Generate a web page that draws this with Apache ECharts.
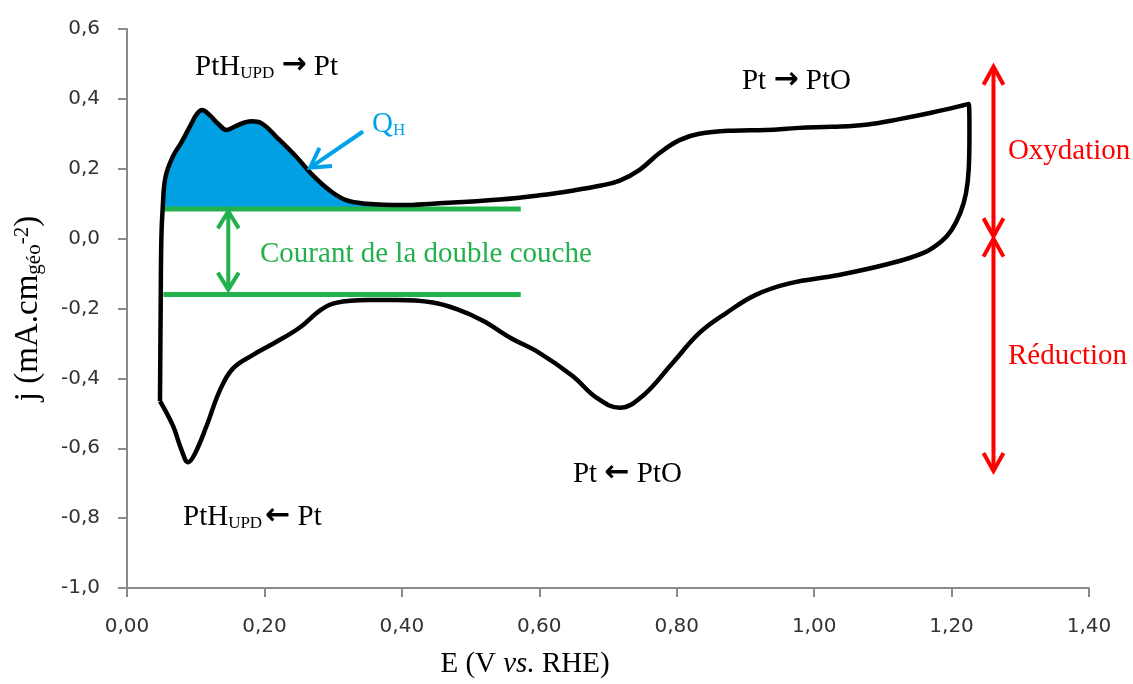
<!DOCTYPE html>
<html><head><meta charset="utf-8">
<script src="https://cdn.jsdelivr.net/npm/echarts@6/dist/echarts.min.js"></script>
<style>html,body{margin:0;padding:0;background:#fff}#c{width:1133px;height:684px}</style>
</head><body><div id="c"></div>
<script>
// ---------- data ----------
const xTickLabels = ['0,00','0,20','0,40','0,60','0,80','1,00','1,20','1,40'];
const yTickLabels = ['-1,0','-0,8','-0,6','-0,4','-0,2','0,0','0,2','0,4','0,6'];

// anodic sweep (E in V vs RHE, j in mA/cm2)
const anodicE = [0.048,0.049,0.050,0.052,0.056,0.067,0.079,0.094,0.101,0.109,0.121,0.133,0.145,0.159,0.181,0.196,0.218,0.247,0.268,0.295,0.319,0.348,0.400,0.445,0.542,0.600,0.650,0.690,0.717,0.746,0.775,0.804,0.833,0.881,0.930,0.978,1.026,1.075,1.124,1.172,1.225];
const anodicJ = [-0.465,-0.200,0.000,0.090,0.176,0.236,0.275,0.330,0.355,0.368,0.352,0.328,0.311,0.323,0.336,0.330,0.290,0.233,0.186,0.138,0.110,0.100,0.096,0.100,0.112,0.124,0.138,0.152,0.166,0.197,0.245,0.282,0.300,0.309,0.311,0.317,0.320,0.326,0.342,0.361,0.385];
// cathodic sweep
const cathodicE = [1.226,1.225,1.221,1.213,1.200,1.185,1.160,1.109,1.036,0.964,0.915,0.872,0.833,0.794,0.750,0.717,0.683,0.649,0.600,0.559,0.518,0.480,0.445,0.392,0.350,0.304,0.282,0.251,0.215,0.184,0.154,0.135,0.116,0.099,0.089,0.079,0.067,0.048];
const cathodicJ = [0.300,0.200,0.130,0.075,0.025,-0.008,-0.040,-0.072,-0.104,-0.128,-0.161,-0.213,-0.270,-0.356,-0.451,-0.484,-0.455,-0.394,-0.327,-0.285,-0.235,-0.202,-0.183,-0.176,-0.176,-0.184,-0.204,-0.255,-0.298,-0.332,-0.372,-0.435,-0.535,-0.615,-0.640,-0.603,-0.536,-0.465];

// double-layer current levels and range
const dlTop = 0.085;
const dlBottom = -0.160;
const dlStart = 0.053;
const dlEnd = 0.573;
const qhEndE = 0.40;

// arrows: tail (x1,y1) -> tip (x2,y2); heads: 1 = tip only, 2 = both ends
const arrowX1 = [0.1474, 1.261, 1.261, 0.3435];
const arrowY1 = [0.078, 0.492, 0.000, 0.3066];
const arrowX2 = [0.1474, 1.261, 1.261, 0.2663];
const arrowY2 = [-0.146, 0.0066, -0.665, 0.2029];
const arrowHeads = [2, 2, 2, 1];

// annotation texts (left edge x, vertical centre y in data units)
const labelX = [0.099, 0.895, 0.3566, 1.282, 1.282, 0.1936, 0.649, 0.0815];
const labelY = [0.494, 0.452, 0.326, 0.249, -0.337, -0.046, -0.672, -0.796];
const labelText = [
  '{n|PtH}{s|UPD}{n| }{a|→}{n| Pt}',
  '{n|Pt }{a|→}{n| PtO}',
  '{n|Q}{s|H}',
  '{n|Oxydation}',
  '{n|Réduction}',
  '{n|Courant de la double couche}',
  '{n|Pt }{a|←}{n| PtO}',
  '{n|PtH}{s|UPD}{t| }{a|←}{n| Pt}'
];

// ---------- styles ----------
const labelColor = ['#000','#000','#00A2E8','#FF0000','#FF0000','#22B14C','#000','#000'];
const arrowColor = ['#22B14C','#FF0000','#FF0000','#00A2E8'];
const arrowHeadLen = [17, 18, 18, 19];
const arrowHeadHalf = [10.5, 10, 10, 11];
const SERIF = '"Liberation Serif", "Times New Roman", serif';

function richFor(color){
  return {
    n: {fontFamily: SERIF, fontSize: 29, fill: color, verticalAlign: 'bottom'},
    s: {fontFamily: SERIF, fontSize: 17, fill: color, verticalAlign: 'bottom'},
    t: {fontFamily: SERIF, fontSize: 12, fill: color, verticalAlign: 'bottom'},
    a: {fontFamily: '"DejaVu Sans"', fontWeight: 'bold', fontSize: 30, fill: color, verticalAlign: 'bottom', padding: [0,0,1,0]}
  };
}

const cvData = anodicE.map((e,i)=>[e, anodicJ[i]]).concat(cathodicE.map((e,i)=>[e, cathodicJ[i]]));
const qhData = anodicE.map((e,i)=>[e, anodicJ[i]]).filter(p => p[0] <= qhEndE && p[1] >= dlTop);
const arrowData = arrowX1.map((v,i)=>[arrowX1[i], arrowY1[i], arrowX2[i], arrowY2[i], i]);
const labelData = labelX.map((v,i)=>[labelX[i], labelY[i], i]);

function renderArrow(params, api){
  const i = api.value(4);
  const p1 = api.coord([api.value(0), api.value(1)]);
  const p2 = api.coord([api.value(2), api.value(3)]);
  const dx = p2[0]-p1[0], dy = p2[1]-p1[1];
  const L = Math.hypot(dx, dy);
  const ux = dx/L, uy = dy/L, nx = -uy, ny = ux;
  const hl = arrowHeadLen[i], hw = arrowHeadHalf[i];
  const color = arrowColor[i];
  const st = {stroke: color, lineWidth: 4, fill: null, lineJoin: 'miter', lineCap: 'butt'};
  function head(t, s){
    return {type: 'polyline', shape: {points: [
      [t[0]-s*ux*hl+nx*hw, t[1]-s*uy*hl+ny*hw], t,
      [t[0]-s*ux*hl-nx*hw, t[1]-s*uy*hl-ny*hw]]}, style: st};
  }
  const a = arrowHeads[i] === 2 ? [p1[0]+ux*2, p1[1]+uy*2] : p1;
  const b = [p2[0]-ux*2, p2[1]-uy*2];
  const children = [{type: 'line', shape: {x1: a[0], y1: a[1], x2: b[0], y2: b[1]}, style: st}, head(p2, 1)];
  if (arrowHeads[i] === 2) children.push(head(p1, -1));
  return {type: 'group', children: children};
}

function renderLabel(params, api){
  const i = api.value(2);
  const p = api.coord([api.value(0), api.value(1)]);
  return {type: 'text', x: p[0], y: p[1], silent: true,
    style: {text: labelText[i], rich: richFor(labelColor[i]), fill: labelColor[i], align: 'left', verticalAlign: 'middle'}};
}

const chart = echarts.init(document.getElementById('c'), null, {renderer: 'canvas'});
chart.setOption({
  animation: false,
  backgroundColor: '#fff',
  grid: {left: 127, right: 44, top: 29, bottom: 95},
  xAxis: {
    type: 'value', min: 0, max: 1.4, interval: 0.2,
    name: '{n|E (V }{i|vs.}{n| RHE)}',
    nameLocation: 'middle', nameGap: 62,
    nameTextStyle: {padding: [0,166,0,0], rich: {
      n: {fontFamily: SERIF, fontSize: 29, color: '#000'},
      i: {fontFamily: SERIF, fontSize: 29, fontStyle: 'italic', color: '#000'}}},
    axisLine: {onZero: false, lineStyle: {color: '#8a8a8a', width: 2}},
    axisTick: {length: 9, lineStyle: {color: '#8a8a8a', width: 2}},
    splitLine: {show: false},
    axisLabel: {margin: 29, fontFamily: '"DejaVu Sans"', fontSize: 20, color: '#333',
      formatter: v => xTickLabels[Math.round(v/0.2)]}
  },
  yAxis: {
    type: 'value', min: -1, max: 0.6, interval: 0.2,
    name: '{n|j (mA.cm}{s|géo}{p|-2}{n|)}',
    nameLocation: 'middle', nameRotate: 90, nameGap: 82,
    nameTextStyle: {rich: {
      n: {fontFamily: SERIF, fontSize: 33, color: '#000', verticalAlign: 'bottom'},
      s: {fontFamily: SERIF, fontSize: 21, color: '#000', verticalAlign: 'bottom'},
      p: {fontFamily: SERIF, fontSize: 21, color: '#000', verticalAlign: 'top'}}},
    axisLine: {show: true, lineStyle: {color: '#8a8a8a', width: 2}},
    axisTick: {show: true, length: 9, lineStyle: {color: '#8a8a8a', width: 2}},
    splitLine: {show: false},
    axisLabel: {margin: 27, fontFamily: '"DejaVu Sans"', fontSize: 20, color: '#333',
      formatter: v => yTickLabels[Math.round((v+1)/0.2)]}
  },
  series: [
    {type: 'line', name: 'QH', data: qhData, smooth: 0.4, showSymbol: false, z: 1,
      lineStyle: {width: 0}, areaStyle: {color: '#00A0E3', opacity: 1, origin: dlTop}},
    {type: 'line', name: 'dlTop', data: [[dlStart, dlTop],[dlEnd, dlTop]], showSymbol: false, z: 2,
      lineStyle: {color: '#22B14C', width: 5}},
    {type: 'line', name: 'dlBottom', data: [[dlStart, dlBottom],[dlEnd, dlBottom]], showSymbol: false, z: 2,
      lineStyle: {color: '#22B14C', width: 5}},
    {type: 'line', name: 'CV', data: cvData, smooth: 0.4, showSymbol: false, z: 3,
      lineStyle: {color: '#000', width: 4.5, join: 'round'}},
    {type: 'custom', name: 'arrows', data: arrowData, renderItem: renderArrow, z: 4, clip: false, silent: true},
    {type: 'custom', name: 'labels', data: labelData, renderItem: renderLabel, z: 5, clip: false, silent: true}
  ]
});
</script></body></html>
